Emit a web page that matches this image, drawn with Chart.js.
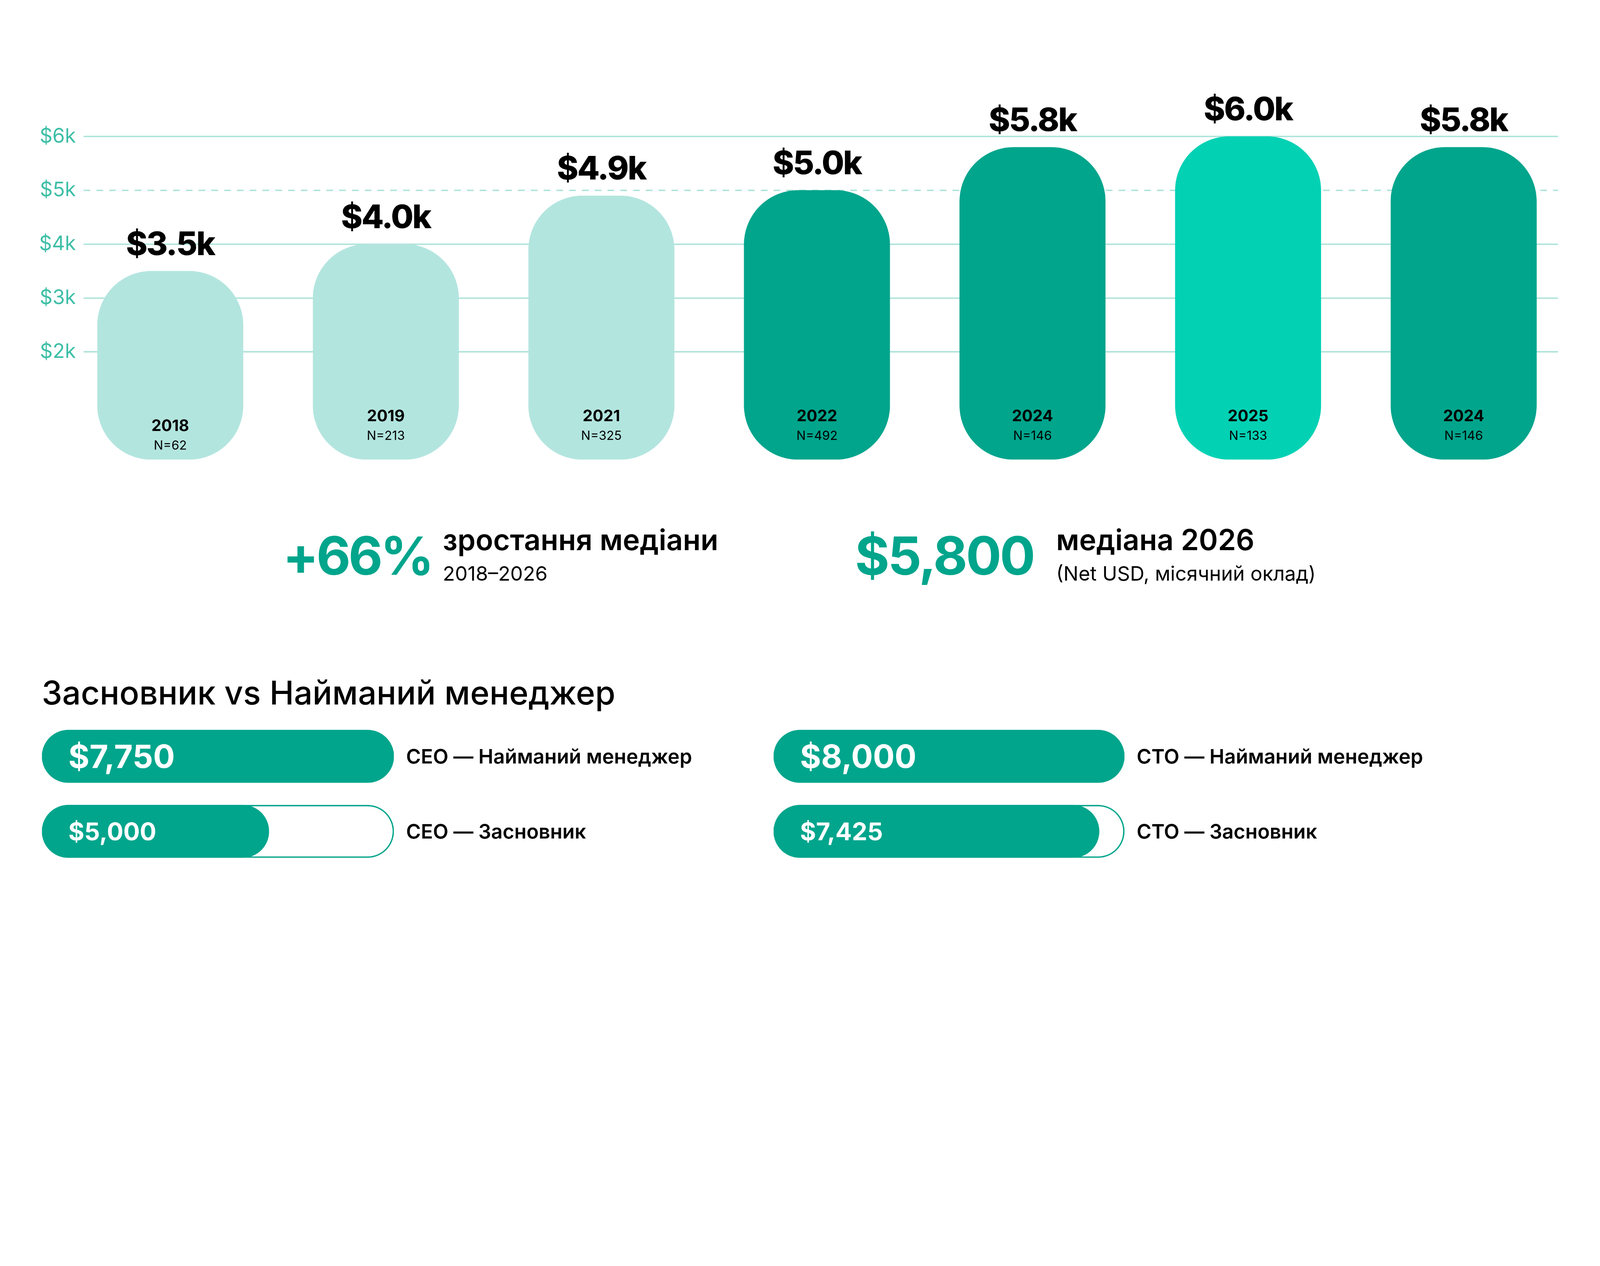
<!DOCTYPE html>
<html>
<head>
<meta charset="utf-8">
<script src="https://cdn.jsdelivr.net/npm/chart.js@4.4.1/dist/chart.umd.min.js"></script>
<style>
  html, body { margin: 0; padding: 0; background: #fff; overflow: hidden; }
  #frame { position: relative; overflow: hidden; }
  #page { position: absolute; left: 0; top: 0; width: 5760px; height: 3240px; overflow: hidden; transform-origin: 0 0; font-family: Inter, "Noto Sans", sans-serif; }
  canvas { position: absolute; }
  .t { position: absolute; white-space: nowrap; line-height: 1; color: #000; }
</style>
</head>
<body>
<div id="frame">
<div id="page">
  <canvas id="medianChart" width="5760" height="1720" style="left:0;top:0;width:5760px;height:1720px"></canvas>

  <div class="t" id="growthBig" style="left:1018px;top:1904px;font-size:190px;font-weight:700;color:#00a58c;letter-spacing:-8px"></div>
  <div class="t" style="left:1594px;top:1890px;font-size:104px;font-weight:600">зростання медіани</div>
  <div class="t" id="growthRange" style="left:1594px;top:2028px;font-size:72px;font-weight:400"></div>

  <div class="t" id="medianBig" style="left:3078px;top:1904px;font-size:190px;font-weight:700;color:#00a58c;letter-spacing:-6px"></div>
  <div class="t" id="medianTitle" style="left:3802px;top:1890px;font-size:104px;font-weight:600"></div>
  <div class="t" style="left:3802px;top:2028px;font-size:72px;font-weight:400">(Net USD, місячний оклад)</div>

  <div class="t" style="left:150px;top:2433px;font-size:118px;font-weight:500">Засновник vs Найманий менеджер</div>

  <canvas id="ceoChart" width="2760" height="600" style="left:0;top:2560px;width:2760px;height:600px"></canvas>
  <canvas id="ctoChart" width="3000" height="600" style="left:2640px;top:2560px;width:3000px;height:600px"></canvas>
</div>
</div>

<script>
// median net salary by survey wave, thousands of USD
var years = ['2018', '2019', '2021', '2022', '2024', '2025', '2024'];
var respondents = [62, 213, 325, 492, 146, 133, 146];
var medianK = [3.5, 4.0, 4.9, 5.0, 5.8, 6.0, 5.8];
var yTicks = [2, 3, 4, 5, 6];
var dashedTick = 5;
var barColors = ['#b3e5df', '#b3e5df', '#b3e5df', '#00a58c', '#00a58c', '#03d1b4', '#00a58c'];

// founder vs hired manager, monthly USD
var roles = ['CEO', 'CTO'];
var rowLabels = ['Найманий менеджер', 'Засновник'];
var hiredPay = [7750, 8000];
var founderPay = [5000, 7425];

var statFrom = '2018', statTo = '2026';
var statMedian = 5800;

var teal = '#00a58c';
var font = 'Inter, "Noto Sans", sans-serif';

// fit the 5760x3240 layout into whatever viewport we get
var page = document.getElementById('page');
var frame = document.getElementById('frame');
var fit = document.documentElement.clientWidth / 5760;
page.style.transform = 'scale(' + fit + ')';
frame.style.width = (5760 * fit) + 'px';
frame.style.height = (3240 * fit) + 'px';
document.body.style.height = (3240 * fit) + 'px';
document.documentElement.style.height = (3240 * fit) + 'px';

document.getElementById('growthBig').textContent =
  '+' + Math.round((medianK[medianK.length - 1] / medianK[0] - 1) * 100) + '%';
document.getElementById('growthRange').textContent = statFrom + '–' + statTo;
document.getElementById('medianBig').textContent = '$' + statMedian.toLocaleString('en-US');
document.getElementById('medianTitle').textContent = 'медіана ' + statTo;

// horizontal guide lines, the $5k one dashed
var gridLines = {
  id: 'gridLines',
  beforeDatasetsDraw: function (chart) {
    var c = chart.ctx, a = chart.chartArea, y = chart.scales.y;
    c.save();
    c.strokeStyle = '#a9e2d8';
    c.lineWidth = 5;
    yTicks.forEach(function (v) {
      c.setLineDash(v === dashedTick ? [24, 22] : []);
      var py = Math.round(y.getPixelForValue(v));
      c.beginPath();
      c.moveTo(a.left, py);
      c.lineTo(a.right, py);
      c.stroke();
    });
    c.restore();
  }
};

var barLabels = {
  id: 'barLabels',
  afterDatasetsDraw: function (chart) {
    var c = chart.ctx;
    var bars = chart.getDatasetMeta(0).data;
    c.save();
    c.fillStyle = '#000';
    c.textAlign = 'center';
    c.textBaseline = 'alphabetic';
    bars.forEach(function (bar, i) {
      c.font = '800 117px ' + font;
      c.letterSpacing = '-4px';
      c.fillText('$' + medianK[i].toFixed(1) + 'k', bar.x, bar.y - 58);
      c.letterSpacing = '0px';
      var yb = Math.max(bar.base - 138, bar.y + 575);
      c.font = '700 57px ' + font;
      c.fillText(years[i], bar.x, yb);
      c.font = '400 45px ' + font;
      c.fillText('N=' + respondents[i], bar.x, yb + 67);
    });
    c.restore();
  }
};

new Chart(document.getElementById('medianChart'), {
  type: 'bar',
  data: {
    datasets: [{
      data: medianK.map(function (v, i) { return { x: i, y: v }; }),
      backgroundColor: barColors,
      borderRadius: 195,
      borderSkipped: false,
      barThickness: 525
    }]
  },
  options: {
    responsive: false,
    devicePixelRatio: 1,
    animation: false,
    layout: { padding: { top: 491, bottom: 66, right: 151, left: 0 } },
    scales: {
      x: { type: 'linear', offset: false, min: -0.402, max: 6.438, display: false },
      y: {
        min: 0,
        max: 6,
        afterBuildTicks: function (s) { s.ticks = yTicks.map(function (v) { return { value: v }; }); },
        afterFit: function (s) { s.width = 301; },
        grid: { display: false },
        border: { display: false },
        ticks: {
          padding: 20,
          color: '#3dbea7',
          font: { family: font, size: 72 },
          callback: function (v) { return '$' + v + 'k'; }
        }
      }
    },
    plugins: { legend: { display: false }, tooltip: { enabled: false } }
  },
  plugins: [gridLines, barLabels]
});

function pillLabels(r) {
  return {
    id: 'pillLabels',
    afterDatasetsDraw: function (chart) {
      var c = chart.ctx, a = chart.chartArea;
      var bars = chart.getDatasetMeta(0).data;
      c.save();
      c.textBaseline = 'alphabetic';
      c.textAlign = 'left';
      bars.forEach(function (bar, j) {
        var size = j === 0 ? 116 : 88;
        c.fillStyle = '#fff';
        c.font = '700 ' + size + 'px ' + font;
        var v = j === 0 ? hiredPay[r] : founderPay[r];
        c.fillText('$' + v.toLocaleString('en-US'), bar.base + 95, bar.y + size * 0.364);
        c.fillStyle = '#000';
        c.font = '600 72px ' + font;
        c.fillText(roles[r] + ' — ' + rowLabels[j], a.right + 44, bar.y + 26);
      });
      c.restore();
    }
  };
}

function pillChart(id, r, padLeft, padRight) {
  return new Chart(document.getElementById(id), {
    type: 'bar',
    data: {
      labels: rowLabels,
      datasets: [{
        data: [hiredPay[r], founderPay[r]],
        backgroundColor: teal,
        borderRadius: 200,
        borderSkipped: false,
        barThickness: 190,
        grouped: false,
        order: 0
      }, {
        data: [hiredPay[r], hiredPay[r]],
        backgroundColor: '#fff',
        borderColor: teal,
        borderWidth: 5,
        borderRadius: 200,
        borderSkipped: false,
        barThickness: 190,
        grouped: false,
        order: 1
      }]
    },
    options: {
      indexAxis: 'y',
      responsive: false,
      devicePixelRatio: 1,
      animation: false,
      layout: { padding: { left: padLeft, right: padRight, top: 27, bottom: 33 } },
      scales: {
        x: { min: 0, max: hiredPay[r], display: false },
        y: { display: false }
      },
      plugins: { legend: { display: false }, tooltip: { enabled: false } }
    },
    plugins: [pillLabels(r)]
  });
}

pillChart('ceoChart', 0, 151, 1342);
pillChart('ctoChart', 1, 145, 1592);
</script>
</body>
</html>
